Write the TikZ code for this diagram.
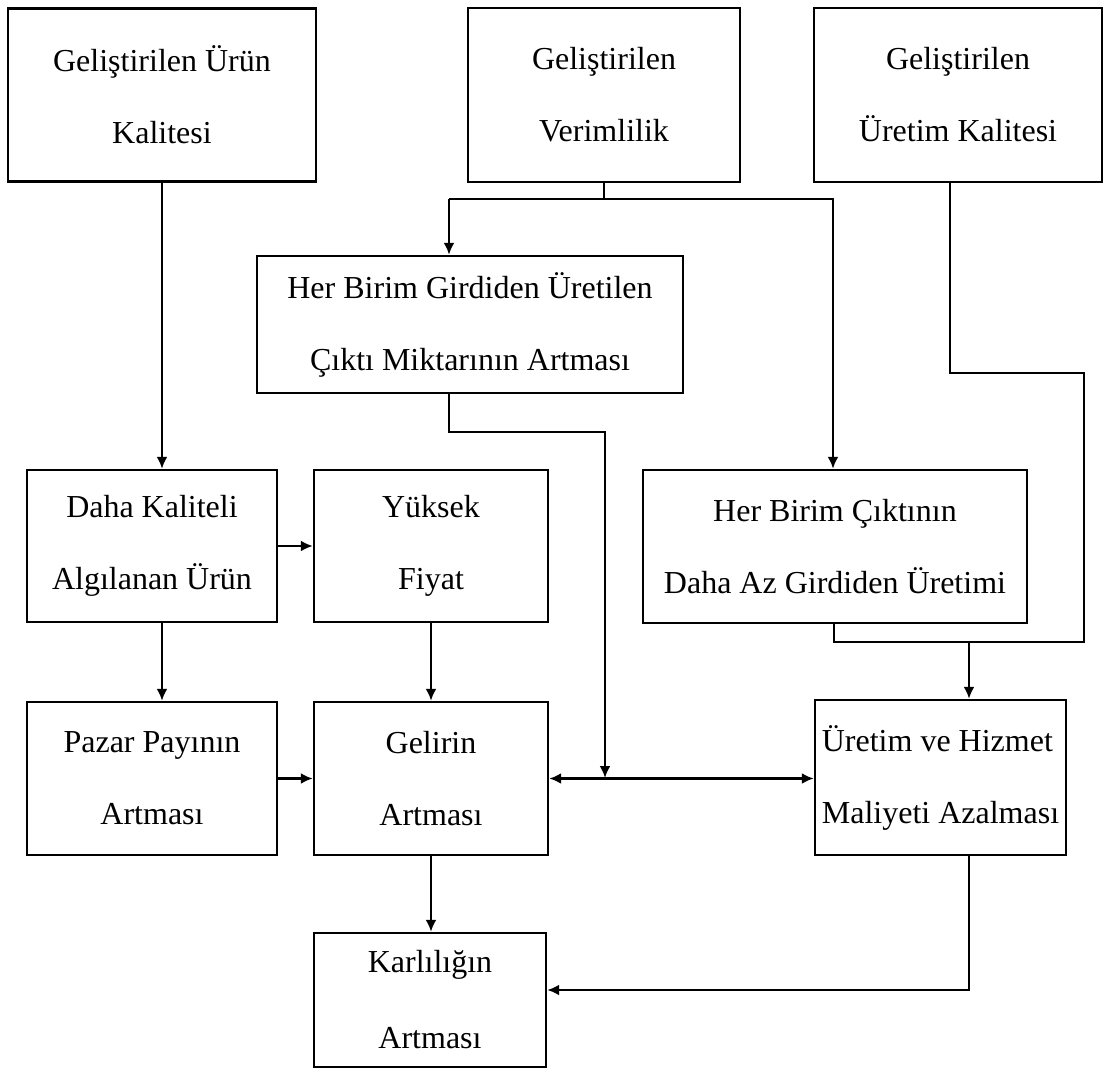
\documentclass[tikz,border=0pt]{standalone}
\usepackage{fontspec}
\setmainfont{Liberation Serif}
\usetikzlibrary{arrows.meta}
\begin{document}
\begin{tikzpicture}[x=0.5pt,y=-0.5pt,
	box/.style={draw,line width=1.2pt,align=center,inner sep=2pt,font=\fontsize{16}{36}\selectfont},
	arr/.style={line width=1.2pt,-{Latex[length=6pt,width=5.5pt]}},
	line/.style={line width=1.2pt}]
	\useasboundingbox (0,0) rectangle (1107,1069);
	% boxes
	\node[box,minimum width=154pt,minimum height=86.5pt] (pq) at (162,95) {Geliştirilen Ürün\\Kalitesi};
	\node[box,minimum width=136pt,minimum height=87pt] (ver) at (604,95) {Geliştirilen\\Verimlilik};
	\node[box,minimum width=144pt,minimum height=87pt] (uk) at (958,95) {Geliştirilen\\Üretim Kalitesi};
	\node[box,minimum width=213pt,minimum height=68.5pt] (cikti) at (470,324.5) {Her Birim Girdiden Üretilen\\Çıktı Miktarının Artması};
	\node[box,minimum width=125pt,minimum height=76pt] (algi) at (152,546) {Daha Kaliteli\\Algılanan Ürün};
	\node[box,minimum width=117pt,minimum height=76pt] (fiyat) at (431,546) {Yüksek\\Fiyat};
	\node[box,minimum width=192pt,minimum height=76.5pt] (girdi) at (835,546.5) {Her Birim Çıktının\\Daha Az Girdiden Üretimi};
	\node[box,minimum width=125pt,minimum height=76.5pt] (pazar) at (152,778.5) {Pazar Payının\\Artması};
	\node[box,minimum width=117pt,minimum height=76.5pt] (gelir) at (431,778.5) {Gelirin\\Artması};
	\node[box,align=left,minimum width=125.5pt,minimum height=77.5pt] (maliyet) at (940.5,777.5) {Üretim ve Hizmet\\Maliyeti Azalması};
	\node[box,font=\fontsize{16}{38}\selectfont,minimum width=116pt,minimum height=67pt] (karlilik) at (430,1000) {Karlılığın\\Artması};
	% bends
	\coordinate (vL) at (449,199);
	\coordinate (vR) at (833,199);
	\coordinate (cj) at (605,432);
	\coordinate (gm) at (605,778);
	\coordinate (u1) at (950,373);
	\coordinate (u2) at (1084,642);
	\coordinate (gj) at (834,642);
	\coordinate (mj) at (969,642);
	\coordinate (kj) at (969,990);
	% connectors
	\draw[arr] (pq.south) -- (pq.south |- algi.north);
	\draw[line] (ver.south) |- (vL);
	\draw[arr] (vL) -- (vL |- cikti.north);
	\draw[arr] (ver.south) |- (vR) -- (vR |- girdi.north);
	\draw[arr] (vL |- cikti.south) |- (cj) -- (gm);
	\draw[arr] (algi.east) -- (fiyat.west);
	\draw[arr] (pq.south |- algi.south) -- (pq.south |- pazar.north);
	\draw[arr] (fiyat.south) -- (gelir.north);
	\draw[arr] (pazar.east) -- (gelir.west);
	\draw[line,{Latex[length=6pt,width=5.5pt]}-{Latex[length=6pt,width=5.5pt]}] (gelir.east) -- (gelir.east -| maliyet.west);
	\draw[line] (u1 |- uk.south) -- (u1) -| (u2) -- (gj) -- (gj |- girdi.south);
	\draw[arr] (mj) -- (mj |- maliyet.north);
	\draw[arr] (gelir.south) -- (gelir.south |- karlilik.north);
	\draw[arr] (mj |- maliyet.south) -- (kj) -- (kj -| karlilik.east);
\end{tikzpicture}
\end{document}
